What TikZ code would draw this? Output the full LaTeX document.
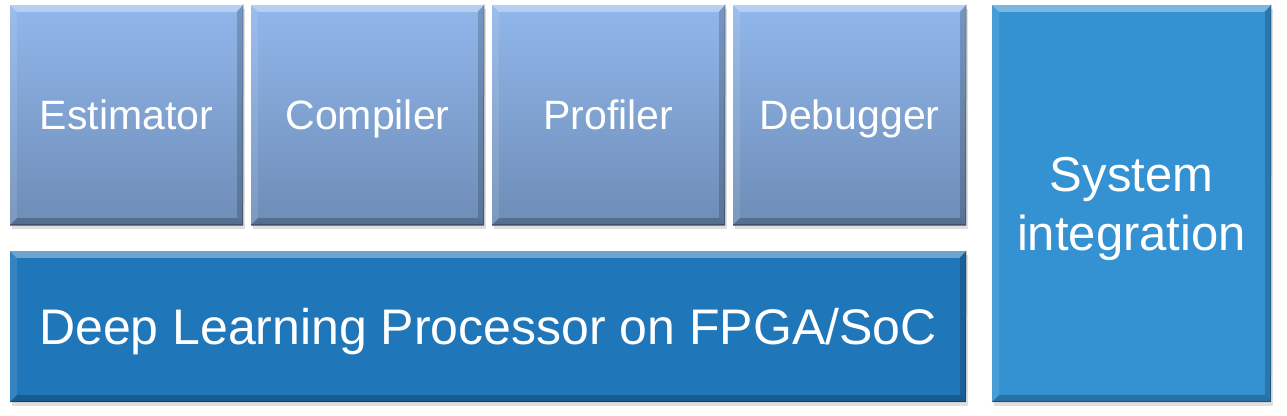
\documentclass[tikz,border=0pt]{standalone}
\usepackage{fontspec}
\setmainfont{Liberation Sans}
\usetikzlibrary{shadows}
\definecolor{toolT}{RGB}{145,183,235}
\definecolor{toolB}{RGB}{110,141,183}
\definecolor{dlpC}{RGB}{31,118,184}
\definecolor{sysC}{RGB}{53,146,210}
\newcommand\mybevel[1]{%
  \fill[white,opacity=0.35] (#1.north west) -- (#1.north east) -- ([xshift=-7pt,yshift=-7pt]#1.north east) -- ([xshift=7pt,yshift=-7pt]#1.north west) -- cycle;
  \fill[white,opacity=0.10] (#1.north west) -- ([xshift=7pt,yshift=-7pt]#1.north west) -- ([xshift=7pt,yshift=7pt]#1.south west) -- (#1.south west) -- cycle;
  \fill[black,opacity=0.18] (#1.north east) -- (#1.south east) -- ([xshift=-6pt,yshift=7pt]#1.south east) -- ([xshift=-6pt,yshift=-7pt]#1.north east) -- cycle;
  \fill[black,opacity=0.22] (#1.south west) -- (#1.south east) -- ([xshift=-6pt,yshift=7pt]#1.south east) -- ([xshift=7pt,yshift=7pt]#1.south west) -- cycle;
  \draw[black,opacity=0.25,line width=1pt] ([yshift=0.5pt]#1.north east) -- ([xshift=-0.5pt,yshift=0.5pt]#1.south east) -- ([yshift=0.5pt]#1.south west);
}
\tikzset{
  boxbase/.style={rectangle, inner sep=0pt, draw=none, text=white,
    drop shadow={opacity=0.25, shadow xshift=2pt, shadow yshift=-4pt}},
  toolbox/.style={boxbase, minimum width=233pt, minimum height=220pt,
    top color=toolT, bottom color=toolB, font=\fontsize{41}{49}\selectfont,
    text height=29.4pt, text depth=0pt},
  dlpbox/.style={boxbase, minimum width=956pt, minimum height=151pt,
    fill=dlpC, font=\fontsize{50}{60}\selectfont,
    text height=35.8pt, text depth=0pt},
  sysbox/.style={boxbase, minimum width=279pt, minimum height=397pt,
    fill=sysC, align=center, font=\fontsize{49}{59}\selectfont,
    text depth=0pt},
}
\begin{document}
\begin{tikzpicture}[x=1pt,y=-1pt]
\useasboundingbox[fill=white] (0,0) rectangle (1287,415);
\node[toolbox] (est) at (126.5,115) {Estimator};
\node[toolbox] (comp) at (367.5,115) {Compiler};
\node[toolbox] (prof) at (608.5,115) {Profiler};
\node[toolbox] (dbg) at (849.5,115) {Debugger};
\node[dlpbox] (dlp) at (488,326.5) {Deep Learning Processor on FPGA/SoC};
\node[sysbox] (sys) at (1131.5,203.5) {System\\integration};
\mybevel{est}
\mybevel{comp}
\mybevel{prof}
\mybevel{dbg}
\mybevel{dlp}
\mybevel{sys}
\end{tikzpicture}
\end{document}
